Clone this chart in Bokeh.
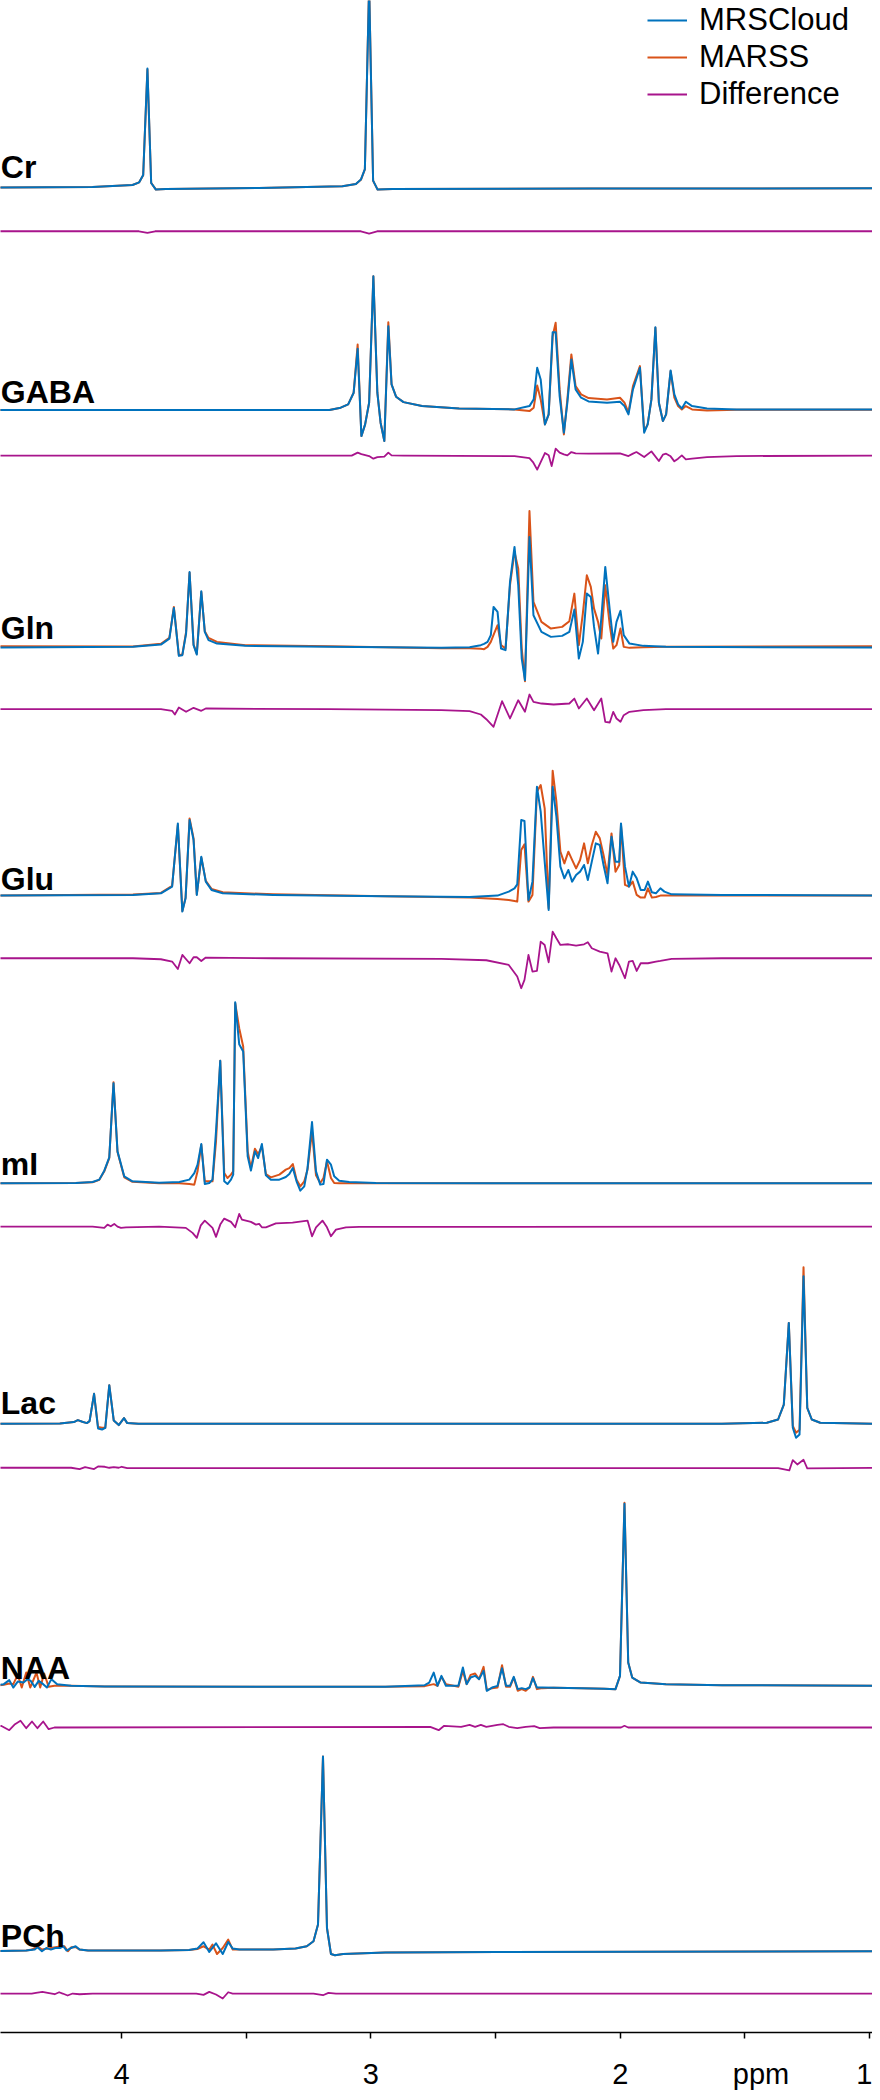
from bokeh.plotting import figure
from bokeh.models import Range1d, FixedTicker, Legend, LegendItem
from bokeh.core.properties import value
from bokeh.embed import file_html
from bokeh.resources import INLINE

# ---------------- data (ppm, amplitude) ----------------
metabolites = ["Cr", "GABA", "Gln", "Glu", "mI", "Lac", "NAA", "PCh"]
series_names = ["MRSCloud", "MARSS", "Difference"]

tick_values = [4.5, 4.0, 3.5, 3.0, 2.5, 2.0, 1.5, 1.0]
# the unit label sits a little to the right of the 1.5 tick (leading no-break spaces shift it)
tick_labels = ["", "4", "", "3", "", "2", "\u00a0\u00a0\u00a0\u00a0ppm", "1"]

# Cr
cr_ppm = [4.52, 4.116, 3.956, 3.929, 3.913, 3.896, 3.881, 3.862, 3.822, 3.448, 3.114, 3.060, 3.040,
          3.024, 3.007, 2.991, 2.973, 2.913, 2.111, 0.98]
cr_mrscloud = [-0.3, 0.3, 2.3, 5.0, 12.3, 119.0, 4.3, -2.3, -1.7, -0.7, 1.0, 3.3, 7.7,
               18.3, 201.7, 6.7, -2.3, -1.7, -1.3, -1.0]
cr_marss = [-0.3, 0.3, 2.3, 5.0, 12.0, 118.0, 4.5, -2.3, -1.7, -0.7, 1.0, 3.3, 7.5,
            18.0, 203.0, 6.5, -2.3, -1.7, -1.3, -1.0]
cr_diff_ppm = [4.52, 3.93, 3.896, 3.865, 3.04, 3.007, 2.975, 0.98]
cr_diff = [0, 0, -1.7, 0, 0, -2.3, 0, 0]

# GABA
gaba_ppm = [4.52, 3.314, 3.166, 3.121, 3.091, 3.069, 3.053, 3.038, 3.023, 3.007, 2.990, 2.974, 2.961,
            2.946, 2.930, 2.917, 2.899, 2.869, 2.795, 2.646, 2.424, 2.364, 2.347, 2.333, 2.319, 2.302,
            2.287, 2.271, 2.259, 2.243, 2.226, 2.212, 2.196, 2.179, 2.157, 2.127, 2.053, 2.001, 1.983,
            1.967, 1.949, 1.921, 1.904, 1.890, 1.875, 1.859, 1.845, 1.829, 1.816, 1.798, 1.783, 1.768,
            1.753, 1.737, 1.712, 1.652, 1.534, 0.98]
gaba_mrscloud = [-0.7, -0.7, -0.7, 1.7, 5.0, 16.7, 60.7, -26.7, -15.0, 6.7, 133.3, 16.7, -13.3,
                 -31.7, 83.3, 25.0, 12.7, 7.3, 3.3, 1.0, 0.0, 3.3, 10.0, 41.7, 30.0, -15.0,
                 -5.0, 77.3, 77.3, 13.3, -23.3, 6.7, 50.0, 20.0, 11.7, 8.0, 6.7, 7.7, 3.3,
                 -5.0, 20.0, 41.7, -23.3, -15.0, 10.0, 82.3, 6.7, -11.7, -5.0, 39.0, 15.0, 5.0,
                 1.0, 7.7, 3.3, 1.0, 0.0, 0.0]
gaba_marss = [-0.7, -0.7, -0.7, 1.7, 5.0, 16.7, 65.0, -26.7, -15.0, 6.7, 133.3, 16.7, -13.3,
              -31.7, 87.3, 25.0, 12.7, 7.3, 3.3, 1.0, 0.0, -1.7, 1.7, 24.0, 10.0, -15.0,
              -5.0, 73.3, 86.7, 20.0, -25.0, 10.0, 55.0, 23.3, 15.0, 11.3, 10.0, 11.7, 6.7,
              -3.3, 23.3, 43.3, -21.7, -15.0, 10.0, 81.7, 6.7, -11.7, -5.0, 38.3, 11.7, 3.3,
              0.0, 3.3, 0.0, -1.0, -0.3, -0.3]
gaba_diff_ppm = [4.52, 3.077, 3.053, 3.038, 3.007, 2.990, 2.974, 2.946, 2.930, 2.917, 2.869, 2.424,
                 2.364, 2.350, 2.333, 2.319, 2.302, 2.287, 2.275, 2.259, 2.243, 2.226, 2.212, 2.196,
                 2.179, 2.127, 2.001, 1.967, 1.949, 1.935, 1.904, 1.875, 1.845, 1.829, 1.816, 1.798,
                 1.783, 1.768, 1.753, 1.737, 1.712, 1.652, 1.534, 0.98]
gaba_diff = [-0.3, -0.3, 2.7, 1.3, -0.7, -3.3, -1.7, -1.3, 2.7, 0, -0.3, -0.7,
             -2.7, -6.7, -14.3, -6.7, 2.3, 0, -10.7, 6.7, 2.7, 1, 0, 3.3,
             2, 1.7, 2, -0.7, 1.7, 3.3, -1.7, 4, -5.7, 0.7, 1.7, -1,
             -6, -3.3, 0, -4, -3.3, -1.7, -0.7, -0.3]

# Gln
gln_ppm = [4.52, 3.954, 3.842, 3.808, 3.790, 3.770, 3.756, 3.741, 3.727, 3.711, 3.698, 3.680, 3.666,
           3.651, 3.617, 3.504, 3.167, 2.717, 2.604, 2.582, 2.559, 2.546, 2.532, 2.519, 2.508, 2.492,
           2.478, 2.460, 2.442, 2.424, 2.409, 2.395, 2.382, 2.364, 2.348, 2.316, 2.278, 2.233, 2.204,
           2.184, 2.166, 2.150, 2.134, 2.118, 2.105, 2.089, 2.076, 2.060, 2.042, 2.028, 2.015, 1.999,
           1.986, 1.963, 1.907, 1.817, 0.98]
gln_mrscloud = [-0.7, 0, 2.3, 8.3, 39, -9, -8.3, 13.3, 75, 1.7, -7.7, 55.7, 15,
                6.7, 3.3, 1, 0, -1, -0.3, 0.7, 1.7, 3, 5, 11.7, 40, 35,
                -1.7, -3.3, 65, 100, 61.7, -11.7, -33.3, 110, 31.7, 15, 10, 11, 15,
                37.3, -11.7, 5, 53.3, 50, 20, -6.7, 28.3, 80, 36.7, 5, 25, 36,
                11.7, 3.3, 1, 0, -0.7]
gln_marss = [0.7, 0.3, 3, 9, 40, -8.3, -7.7, 15, 74.3, 2.3, -6.7, 55, 15.7,
             9, 5, 1.7, 0.7, -1.3, -1.5, -1.7, -2, -2.3, 0, 5, 12, 21.7,
             1.7, -1.7, 61.7, 95, 78.3, -1.7, -34.3, 136, 45, 25, 18.3, 20, 25.7,
             53.3, 1.7, 33.3, 71.7, 60, 38.3, 25, 8.3, 61.7, 21.7, -1.7, 1.7, 18.3,
             0, -1, -0.3, 0, 0.7]
gln_diff_ppm = [4.52, 3.842, 3.797, 3.786, 3.770, 3.741, 3.711, 3.680, 3.662, 3.167,
                2.717, 2.604, 2.559, 2.537, 2.508, 2.474, 2.442, 2.409, 2.382, 2.364,
                2.348, 2.316, 2.267, 2.204, 2.184, 2.166, 2.134, 2.105, 2.076, 2.060,
                2.042, 2.028, 2.015, 1.999, 1.986, 1.963, 1.907, 1.817, 0.98]
gln_diff = [-0.7, -0.7, -2.3, -6, 1, -3.3, 0.7, -2.3, 0, -0.7,
            -1.7, -2.7, -6, -10.7, -18.3, 7.3, -10, 8.3, -3.3, 14,
            6.7, 5, 4, 5, 10, 0, 10, -1.7, 10, -13.3,
            -14, -3.3, -10, -13.3, -6.7, -3.3, -1.7, -0.7, -0.7]

# Glu
glu_ppm = [4.52, 3.954, 3.842, 3.797, 3.774, 3.756, 3.743, 3.727, 3.711, 3.698, 3.680, 3.662, 3.639,
           3.594, 3.392, 2.942, 2.604, 2.492, 2.447, 2.424, 2.413, 2.397, 2.384, 2.368, 2.352, 2.334,
           2.319, 2.303, 2.287, 2.271, 2.256, 2.240, 2.224, 2.208, 2.193, 2.177, 2.161, 2.145, 2.130,
           2.114, 2.098, 2.082, 2.067, 2.051, 2.035, 2.019, 2.004, 1.997, 1.981, 1.965, 1.950, 1.934,
           1.918, 1.902, 1.889, 1.873, 1.857, 1.839, 1.823, 1.794, 1.592, 0.98]
glu_mrscloud = [0, 0.7, 2.3, 9, 72.3, -16, -2.7, 75.7, 55.7, 0.7, 39, 14, 5.7,
                2.3, 0.7, -0.7, -1.3, 0, 4, 7.3, 11.3, 75.7, 74.7, -4.3, 14, 109,
                84, 34, -14.3, 109, 79, 29, 17.3, 25.7, 14, 20.7, 24, 30.7, 15.7,
                34, 52.3, 50.7, 30.7, 12.3, 59, 34, 34, 72.3, 29, 9, 24, 17.3,
                5.7, 5.7, 14, 3.3, 2.3, 7.3, 4, 1.3, 0.7, 0]
glu_marss = [0, 1, 2.7, 9.7, 70.7, -15.3, -2, 77.3, 57.3, 1.3, 38, 14.7, 6.7,
             3.3, 1.3, -0.7, -2, -3.3, -4.5, -5.3, -6, 45.7, 51.3, -6, 0.7, 104,
             110.7, 87.3, -12.7, 125, 94, 44, 32.3, 44, 35.7, 27.3, 35.7, 52.3, 32.3,
             50.7, 64, 57.3, 40.7, 20.7, 62.3, 24, 30.7, 70.7, 10.7, 9, 14, 0.7,
             -2, -2, 7.3, -2, -1.3, 0, 0, 0, 0, 0]
glu_diff_ppm = [4.52, 3.954, 3.842, 3.797, 3.774, 3.756, 3.727, 3.711, 3.698, 3.680,
                3.662, 3.392, 2.717, 2.537, 2.447, 2.413, 2.397, 2.384, 2.368, 2.352,
                2.334, 2.319, 2.303, 2.287, 2.271, 2.256, 2.240, 2.208, 2.177, 2.145,
                2.130, 2.114, 2.082, 2.051, 2.035, 2.019, 2.004, 1.981, 1.965, 1.950,
                1.934, 1.918, 1.889, 1.857, 1.839, 1.794, 1.592, 0.98]
glu_diff = [0, 0, -1, -3.3, -10.7, 3.3, -5, 1, 1, -2.7,
            0.7, 0, -0.7, -2, -6.7, -18.3, -30, -21.7, 3.3, -13.3,
            -12.7, 16.7, 13.3, -4, 26.7, 20, 13.3, 14, 12.7, 14,
            16, 10, 6.7, 5, -13.3, 0, -6.7, -20, -3.3, -2.7,
            -12.7, -5, -5, -3.3, -2.7, -0.7, 0, 0]

# mI
mi_ppm = [4.52, 4.183, 4.116, 4.089, 4.069, 4.049, 4.032, 4.016, 3.989, 3.956, 3.849, 3.768, 3.728,
          3.708, 3.695, 3.680, 3.666, 3.648, 3.635, 3.621, 3.604, 3.588, 3.575, 3.561, 3.552, 3.544,
          3.528, 3.512, 3.494, 3.481, 3.465, 3.452, 3.437, 3.421, 3.401, 3.367, 3.341, 3.327, 3.313,
          3.298, 3.283, 3.267, 3.254, 3.236, 3.220, 3.203, 3.190, 3.176, 3.160, 3.147, 3.127, 3.087,
          2.980, 2.512, 0.98]
mi_mrscloud = [0, 0.3, 1.3, 3.7, 12.7, 26, 100.3, 32, 7, 2, 0.7, 1.3, 3.7,
               10.3, 18.7, 39.3, -0.7, 0.3, 3.7, 52, 122.7, 2, -0.7, 3.7, 8.7, 181.3,
               139.3, 132, 27, 12.7, 32, 25.3, 39.3, 8, 3.7, 3.7, 6.3, 9.3, 15.3,
               2, -7.3, -3, 15.3, 61.3, 12, -1.3, -0.7, 23.7, 18.7, 7, 2.7, 1.3,
               0.3, 0, 0]
mi_marss = [0, 0.3, 1, 3.5, 12, 25.3, 101.3, 31.3, 6, 1.5, 0, 0, -0.7,
            -1.3, 12, 38.7, 2, 2, 2, 42, 122.7, 10.3, 5.3, 8.7, 12, 180.3,
            155.3, 137, 32, 15.3, 34.7, 29.3, 37, 9.3, 6, 8.7, 13.7, 15.3, 19.3,
            3.7, -3, 2, 13.7, 52, 8, 0.3, 5.3, 22, 5.3, 0.3, 0, 0,
            0, 0, 0]
mi_diff_ppm = [4.52, 4.116, 4.069, 4.056, 4.043, 4.029, 4.016, 4.002, 3.982, 3.849,
               3.742, 3.715, 3.698, 3.682, 3.666, 3.635, 3.621, 3.604, 3.588, 3.561,
               3.544, 3.528, 3.517, 3.501, 3.481, 3.461, 3.448, 3.437, 3.421, 3.381,
               3.314, 3.254, 3.236, 3.220, 3.194, 3.176, 3.160, 3.140, 3.100, 3.047, 0.98]
mi_diff = [0, 0, -1.3, 2, 0.3, 2.7, 0, -1.3, -0.7, 0,
           -1.3, -6.3, -11.3, 1.3, 6, -1.3, -10.3, 2, 8, 4.7,
           -0.7, 12.7, 7, 6, 4.7, 2, 2.7, -0.7, -0.7, 3.3,
           4, 6, -9.7, -0.7, 6, -0.7, -9.7, -3, -0.7, -0.3, 0]

# Lac
lac_ppm = [4.52, 4.247, 4.191, 4.175, 4.157, 4.139, 4.128, 4.110, 4.094, 4.078, 4.065, 4.049, 4.031,
           4.011, 3.990, 3.977, 3.932, 3.617, 1.592, 1.412, 1.367, 1.344, 1.324, 1.308, 1.295, 1.281,
           1.265, 1.250, 1.232, 1.198, 0.98]
lac_mrscloud = [0, 0.3, 1.7, 3.7, 2, 0.7, 2.7, 30, -4.7, -5.7, -4, 38.7, 3.3,
                -1.3, 5.7, 0.7, 0, 0, 0, 1, 4.3, 19.3, 101, -4, -14, -10.7,
                147.7, 16, 4.3, 1, 0]
lac_marss = [0, 0.3, 1.7, 3.7, 2, 0.7, 2.7, 30, -3.3, -4, -4, 38.7, 3.3,
             -1.3, 5.7, 0.7, 0, 0, 0, 1, 4.3, 19.3, 101, -2, -9, -6,
             156.7, 16, 4.3, 1, 0]
lac_diff_ppm = [4.52, 4.202, 4.168, 4.146, 4.110, 4.094, 4.067, 4.049, 4.031, 4.011,
                3.999, 3.977, 1.367, 1.322, 1.308, 1.290, 1.265, 1.250, 0.98]
lac_diff = [0, 0, -1.3, 0.7, -1.3, 1.3, 1, 0, 0.7, 0,
            1, -0.3, -0.3, -2.7, 7.7, 3.3, 8, -0.7, 0]

# NAA
naa_ppm_mrscloud = [4.52, 4.472, 4.450, 4.434, 4.416, 4.393, 4.377, 4.364, 4.348, 4.332, 4.314, 4.299,
                    4.281, 4.258, 4.202, 4.067, 2.942, 2.784, 2.766, 2.748, 2.733, 2.717, 2.699, 2.649,
                    2.631, 2.616, 2.600, 2.582, 2.566, 2.548, 2.535, 2.514, 2.492, 2.474, 2.458, 2.442,
                    2.427, 2.411, 2.395, 2.379, 2.364, 2.350, 2.334, 2.312, 2.154, 2.064, 2.019, 2.001,
                    1.983, 1.968, 1.952, 1.918, 1.817, 1.592, 0.98]
naa_mrscloud = [0, 1.7, 5.7, -1.7, 4.3, 3.3, 6.7, 5, -1, 5, 1.7, -1.7,
                6.7, 1.7, 0, -0.7, -1, 0.7, 3.3, 13.3, 0, 10, 0, 0,
                18.3, 1.7, 8.3, 10, 6.7, 15, -5, -1.7, 0, 17.7, 0, 0,
                9, -3.3, -2.3, -3.3, -1.7, 7.7, -1.7, -1.7, -2.3, -3, -3.3, 10,
                182.3, 23.3, 8.3, 3.3, 1.7, 0.7, 0]
naa_ppm_marss = [4.52, 4.472, 4.450, 4.434, 4.416, 4.400, 4.382, 4.366, 4.341, 4.326, 4.310, 4.292,
                 4.269, 4.202, 4.067, 2.942, 2.784, 2.748, 2.733, 2.717, 2.699, 2.649, 2.631, 2.616,
                 2.600, 2.582, 2.566, 2.548, 2.535, 2.514, 2.492, 2.474, 2.458, 2.442, 2.427, 2.411,
                 2.395, 2.379, 2.364, 2.350, 2.334, 2.312, 2.267, 2.154, 2.064, 2.019, 2.001, 1.983,
                 1.968, 1.952, 1.918, 1.817, 1.592, 0.98]
naa_marss = [0, 1, 2.3, 1.7, 11, -1.7, 13.3, -1.7, 13.3, -1.7, 12.3, -1,
             0, 0, -0.7, -1, -0.3, 1.7, 0, 9, 1.7, -1, 15, 1.7,
             11, 12.3, 6.7, 19, -4.3, -2.3, -1.7, 20.7, -1, -1, 8.3, -5,
             -3.3, -5, -1.7, 9, -3.3, -2.3, -2, -2.3, -3, -3.3, 10, 183.3,
             23.3, 8.3, 3.3, 1.7, 0.7, 0]
naa_diff_ppm = [4.52, 4.483, 4.450, 4.427, 4.405, 4.382, 4.359, 4.337, 4.314, 4.292, 4.269,
                2.762, 2.728, 2.706, 2.638, 2.604, 2.582, 2.559, 2.537, 2.492, 2.469, 2.447,
                2.413, 2.379, 2.345, 2.323, 2.267, 1.997, 1.983, 1.968, 0.98]
naa_diff = [0, 1.7, -2.7, 3.3, 6.7, -0.7, 6, -0.7, 6, -1.7, 0,
            0.7, -2.7, 1.7, 0.7, 2.7, 0.7, 2.7, 0.7, 2.7, 3.3, 0.7,
            -0.7, 0.7, 1.3, -0.7, 0, 0, 1.7, 0, 0]

# PCh
pch_ppm_mrscloud = [4.52, 4.382, 4.348, 4.337, 4.319, 4.301, 4.283, 4.265, 4.247, 4.233, 4.220, 4.202,
                    4.184, 4.168, 4.134, 3.842, 3.729, 3.696, 3.671, 3.648, 3.621, 3.594, 3.572, 3.554,
                    3.527, 3.392, 3.302, 3.257, 3.230, 3.212, 3.192, 3.176, 3.160, 3.144, 3.111, 2.942,
                    2.492, 0.98]
pch_mrscloud = [0, 0.7, 1.7, 4, 0, 3.3, 1.7, 3.3, 3.3, 5, 0.7, 3.3,
                5, 1.7, 0.7, 0.7, 1.3, 2.7, 9, -0.7, 8, -2.7, 9.3, 2.7,
                1.7, 1.7, 2.7, 5, 10, 26.7, 195, 23.3, -2.7, -4, -2.7, -1.3,
                -0.7, 0]
pch_ppm_marss = [4.52, 4.382, 4.359, 4.337, 4.319, 4.283, 4.265, 4.247, 4.229, 4.215, 4.202, 4.184,
                 4.168, 4.134, 3.842, 3.729, 3.696, 3.671, 3.648, 3.635, 3.617, 3.594, 3.572, 3.554,
                 3.527, 3.392, 3.302, 3.257, 3.230, 3.212, 3.192, 3.176, 3.160, 3.144, 3.111, 2.942,
                 2.492, 0.98]
pch_marss = [0, 0.7, 1.7, 5, 1.7, 3.3, 4, 4.7, 5, 0, 4, 4.3,
             1.7, 0.7, 0.7, 1.3, 2.3, 5, 1.7, 6.7, -2.7, 3.3, 11.7, 1.7,
             1.7, 1.7, 2.7, 5, 10, 26.7, 195, 23.3, -2.7, -4, -2.7, -1.3,
             -0.7, 0]
pch_diff_ppm = [4.52, 4.36, 4.343, 4.317, 4.296, 4.268, 4.25, 4.236, 4.216, 4.196, 4.168, 4.116,
                3.70, 3.671, 3.648, 3.621, 3.594, 3.572, 3.554, 3.23, 3.192, 3.17, 3.14, 0.98]
pch_diff = [0, 0, 0.7, 1.7, 0.7, -0.7, 1.3, 0, -2, 0, -0.7, 0,
            0, -1.3, 1.7, -1, -5, 1.3, 0, 0, -1.7, 0.7, 0, 0]

mrscloud_ppm = [cr_ppm, gaba_ppm, gln_ppm, glu_ppm, mi_ppm, lac_ppm, naa_ppm_mrscloud, pch_ppm_mrscloud]
mrscloud_amp = [cr_mrscloud, gaba_mrscloud, gln_mrscloud, glu_mrscloud, mi_mrscloud, lac_mrscloud,
                naa_mrscloud, pch_mrscloud]
marss_ppm = [cr_ppm, gaba_ppm, gln_ppm, glu_ppm, mi_ppm, lac_ppm, naa_ppm_marss, pch_ppm_marss]
marss_amp = [cr_marss, gaba_marss, gln_marss, glu_marss, mi_marss, lac_marss, naa_marss, pch_marss]
diff_ppm = [cr_diff_ppm, gaba_diff_ppm, gln_diff_ppm, glu_diff_ppm, mi_diff_ppm, lac_diff_ppm,
            naa_diff_ppm, pch_diff_ppm]
diff_amp = [cr_diff, gaba_diff, gln_diff, glu_diff, mi_diff, lac_diff, naa_diff, pch_diff]

# ---------------- layout (page pixels) ----------------
FRAME_BOTTOM_PX = 2042
spectrum_base_px = [195, 417.3, 655, 904, 1192, 1432.7, 1695, 1960.7]
diff_base_px = [239, 463.3, 716.7, 966.7, 1235.3, 1476.7, 1736.7, 2003]
label_base_px = [175, 400, 636, 887, 1173, 1412, 1677, 1945]
LABEL_X = 4.484

BLUE = "#0072BD"
ORANGE = "#D95319"
MAGENTA = "#A8148C"
FONT = "Liberation Sans"


def shift(base_px, amps):
    return [FRAME_BOTTOM_PX - base_px + a for a in amps]


p = figure(width=872, height=2092,
           x_range=Range1d(4.4852, 0.9884), y_range=Range1d(0, 2034),
           output_backend="svg", toolbar_location=None, tools="",
           y_axis_location=None,
           min_border_left=0, min_border_right=0, min_border_top=0, min_border_bottom=58,
           background_fill_color="white", border_fill_color="white")
p.outline_line_color = None
p.xgrid.grid_line_color = None
p.ygrid.grid_line_color = None

marss_r = p.multi_line(xs=marss_ppm,
                       ys=[shift(b, a) for b, a in zip(spectrum_base_px, marss_amp)],
                       line_color=ORANGE, line_width=2, line_join="round")
cloud_r = p.multi_line(xs=mrscloud_ppm,
                       ys=[shift(b, a) for b, a in zip(spectrum_base_px, mrscloud_amp)],
                       line_color=BLUE, line_width=2, line_join="round")
diff_r = p.multi_line(xs=diff_ppm,
                      ys=[shift(b, a) for b, a in zip(diff_base_px, diff_amp)],
                      line_color=MAGENTA, line_width=1.8, line_join="round")

p.text(x=[LABEL_X] * len(metabolites), y=[FRAME_BOTTOM_PX - v for v in label_base_px],
       text=metabolites, text_font=value(FONT), text_font_style="bold",
       text_font_size="32px", text_baseline="alphabetic", text_align="left",
       text_color="black")

ax = p.xaxis[0]
ax.ticker = FixedTicker(ticks=tick_values)
ax.major_label_overrides = {v: l for v, l in zip(tick_values, tick_labels)}
ax.axis_line_color = "black"
ax.axis_line_width = 1.5
ax.major_tick_line_color = "black"
ax.major_tick_line_width = 1.5
ax.major_tick_in = 0
ax.major_tick_out = 6
ax.minor_tick_line_color = None
ax.major_label_text_font = FONT
ax.major_label_text_font_size = "29px"
ax.major_label_text_color = "black"
ax.major_label_standoff = 19

legend = Legend(items=[LegendItem(label=series_names[0], renderers=[cloud_r]),
                       LegendItem(label=series_names[1], renderers=[marss_r]),
                       LegendItem(label=series_names[2], renderers=[diff_r])],
                location=(647, 1920),
                label_text_font=FONT, label_text_font_size="31px", label_text_color="black",
                glyph_width=40, glyph_height=36, label_height=36, label_standoff=12,
                spacing=1, padding=0, margin=0,
                border_line_alpha=0, background_fill_alpha=0)
p.add_layout(legend)

open("out.html", "w").write(file_html(p, INLINE))
